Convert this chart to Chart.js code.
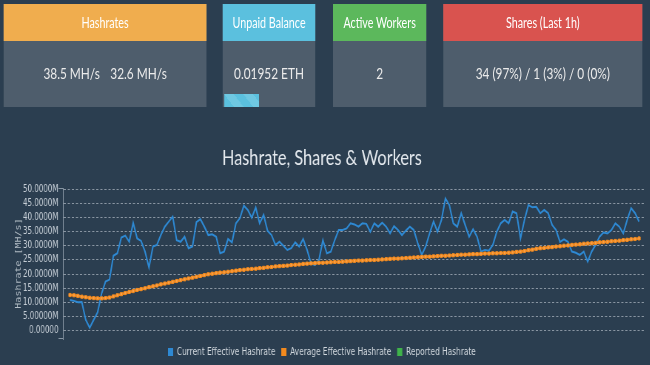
<!DOCTYPE html>
<html>
<head>
<meta charset="utf-8">
<script src="https://cdn.jsdelivr.net/npm/chart.js@4.4.1/dist/chart.umd.min.js"></script>
<style>
  html, body { margin: 0; padding: 0; width: 650px; height: 365px; overflow: hidden; background: #2b3e50; }
  /* the reference screenshot is squeezed horizontally, so lay out wide and scale down */
  #page { position: absolute; left: 0; top: 0; width: 878px; height: 365px; transform: scaleX(0.74); transform-origin: 0 0; font-family: Lato, sans-serif; }
  .card { position: absolute; top: 4px; height: 103px; background: #4e5d6c; }
  .card .head { height: 37px; line-height: 37px; text-align: center; color: #fff; font-size: 14.5px; }
  .card .val { height: 66px; line-height: 64px; text-align: center; color: #ebebeb; font-size: 16px; }
  .warning { background: #f0ad4e; }
  .info { background: #5bc0de; }
  .success { background: #5cb85c; }
  .danger { background: #d9534f; }
  .bar { position: absolute; left: 2px; bottom: 0; width: 47px; height: 13px; background-color: #5bc0de;
    background-image: linear-gradient(45deg, rgba(255,255,255,.12) 25%, transparent 25%, transparent 50%, rgba(255,255,255,.12) 50%, rgba(255,255,255,.12) 75%, transparent 75%, transparent);
    background-size: 26px 26px; }
  #wrap { position: absolute; left: 0; top: 118px; width: 878px; height: 249px; }
</style>
</head>
<body>
<div id="page">
  <div class="card" style="left:5px;width:274px">
    <div class="head warning">Hashrates</div>
    <div class="val"><span style="margin-right:14px">38.5 MH/s</span><span>32.6 MH/s</span></div>
  </div>
  <div class="card" style="left:301px;width:125px">
    <div class="head info">Unpaid Balance</div>
    <div class="val">0.01952 ETH</div>
    <div class="bar"></div>
  </div>
  <div class="card" style="left:450px;width:126px">
    <div class="head success">Active Workers</div>
    <div class="val">2</div>
  </div>
  <div class="card" style="left:599px;width:269px">
    <div class="head danger">Shares (Last 1h)</div>
    <div class="val">34 (97%) / 1 (3%) / 0 (0%)</div>
  </div>
  <div id="wrap"><canvas id="hashChart" width="878" height="249"></canvas></div>
</div>
<script>
// MH/s, one value per sample
const currentHashrate = [
  10.7, 10.4, 9.9, 10.0, 3.6, 0.8, 3.6, 6.3, 13.0, 17.3, 18.0, 26.5, 27.4, 33.0, 33.7, 31.5, 38.3, 32.7, 31.8, 28.0,
  22.3, 29.8, 30.4, 33.9, 36.9, 38.7, 40.5, 32.1, 31.5, 33.3, 29.2, 29.8, 38.5, 39.6, 36.9, 33.9, 34.2,
  33.3, 27.4, 28.0, 32.5, 31.3, 38.1, 39.9, 44.4, 42.9, 40.1, 43.7, 38.1, 41.1, 35.4, 33.9, 30.4, 31.5, 30.1, 28.6,
  29.2, 31.3, 29.8, 32.5, 28.6, 23.8, 23.2, 25.0, 32.1, 27.4, 28.0, 32.1, 35.7, 35.7, 36.3, 38.1, 37.7, 36.9,
  38.1, 37.9, 35.1, 38.1, 36.9, 38.3, 36.9, 34.5, 37.1, 35.7, 33.9, 35.5, 36.9, 35.7, 31.0, 26.8, 29.8, 34.5, 38.7, 35.1, 39.3,
  47.0, 44.6, 38.1, 36.9, 41.7, 37.5, 33.3, 36.0, 33.3, 28.0, 28.6, 28.3, 30.4, 35.1, 38.1, 39.3, 38.1, 42.3, 41.7, 32.7,
  39.3, 44.6, 43.8, 44.0, 41.7, 42.9, 41.7, 37.5, 35.7, 31.5, 32.4, 31.5, 28.0, 27.6, 26.8, 28.0, 24.4, 28.0, 30.4, 33.3,
  34.8, 34.5, 35.7, 38.1, 36.9, 34.5, 39.3, 43.5, 41.7, 38.7
];
const averageHashrate = [
  12.5, 12.4, 12.2, 11.9, 11.7, 11.5, 11.4, 11.3, 11.3, 11.4,
  11.6, 12.0, 12.4, 12.8, 13.2, 13.6, 13.9, 14.3, 14.6, 14.9,
  15.3, 15.6, 15.9, 16.3, 16.6, 16.9, 17.2, 17.5, 17.8, 18.1,
  18.4, 18.7, 19.0, 19.3, 19.6, 19.9, 20.1, 20.3, 20.5, 20.6,
  20.8, 21.0, 21.2, 21.4, 21.5, 21.7, 21.8, 21.9, 22.1, 22.2,
  22.4, 22.5, 22.7, 22.8, 22.9, 23.0, 23.2, 23.3, 23.4, 23.6,
  23.7, 23.8, 23.9, 24.0, 24.0, 24.1, 24.2, 24.3, 24.3, 24.4,
  24.5, 24.6, 24.7, 24.8, 24.8, 24.9, 25.0, 25.0, 25.1, 25.2,
  25.3, 25.4, 25.5, 25.5, 25.6, 25.7, 25.8, 25.9, 26.0, 26.1,
  26.2, 26.2, 26.3, 26.4, 26.5, 26.5, 26.6, 26.7, 26.8, 26.9,
  26.9, 27.0, 27.1, 27.1, 27.2, 27.3, 27.3, 27.4, 27.4, 27.5,
  27.5, 27.6, 27.7, 27.9, 28.0, 28.2, 28.5, 28.7, 29.0, 29.2,
  29.3, 29.5, 29.6, 29.8, 29.9, 30.1, 30.2, 30.4, 30.5, 30.6,
  30.8, 30.9, 31.0, 31.1, 31.3, 31.4, 31.5, 31.7, 31.8, 31.9,
  32.1, 32.2, 32.4, 32.5, 32.7
];
const reportedHashrate = [];

const seriesNames = ['Current Effective Hashrate', 'Average Effective Hashrate', 'Reported Hashrate'];
const yTickValues = [0, 5, 10, 15, 20, 25, 30, 35, 40, 45, 50];
const yTickLabels = ['0.00000', '5.00000M', '10.0000M', '15.0000M', '20.0000M', '25.0000M',
  '30.0000M', '35.0000M', '40.0000M', '45.0000M', '50.0000M'];

const toPoints = arr => arr.map((v, i) => ({ x: i, y: v }));

// little end marks on the y axis line
const axisEnds = {
  id: 'axisEnds',
  afterDraw(chart) {
    const { ctx, chartArea } = chart;
    ctx.save();
    ctx.strokeStyle = '#8896a3';
    ctx.lineWidth = 1;
    ctx.beginPath();
    ctx.moveTo(chartArea.left - 6, chartArea.top + 0.5);
    ctx.lineTo(chartArea.left, chartArea.top + 0.5);
    ctx.moveTo(chartArea.left - 6, chartArea.bottom - 0.5);
    ctx.lineTo(chartArea.left, chartArea.bottom - 0.5);
    ctx.stroke();
    ctx.restore();
  }
};

new Chart(document.getElementById('hashChart'), {
  type: 'line',
  data: {
    datasets: [{
      label: seriesNames[0],
      data: toPoints(currentHashrate),
      borderColor: '#2e89d3',
      backgroundColor: '#2e89d3',
      borderWidth: 2,
      pointRadius: 0,
      order: 1
    }, {
      label: seriesNames[1],
      data: toPoints(averageHashrate),
      borderColor: '#f28a1e',
      backgroundColor: '#f28a1e',
      borderWidth: 2.6,
      pointStyle: 'rect',
      pointRadius: 2.2,
      pointBackgroundColor: '#f6a04c',
      pointBorderColor: '#f28a1e',
      pointBorderWidth: 1,
      order: 0
    }, {
      label: seriesNames[2],
      data: toPoints(reportedHashrate),
      borderColor: '#3fb34a',
      backgroundColor: '#3fb34a',
      pointRadius: 0,
      order: 2
    }]
  },
  options: {
    responsive: false,
    animation: false,
    layout: { padding: { left: 0, right: 8, top: 0, bottom: 0 } },
    plugins: {
      title: {
        display: true,
        text: 'Hashrate, Shares & Workers',
        color: '#e4e9ee',
        font: { family: 'Lato', size: 22, weight: 'normal' },
        padding: { top: 26.8, bottom: 16.8 }
      },
      legend: {
        position: 'bottom',
        labels: {
          color: '#d0d7dd',
          font: { family: 'DejaVu Sans', size: 10 },
          boxWidth: 7,
          boxHeight: 8,
          padding: 8,
          sort: (a, b) => a.datasetIndex - b.datasetIndex,
          generateLabels: chart => Chart.defaults.plugins.legend.labels.generateLabels(chart)
            .map(it => Object.assign(it, { fillStyle: it.strokeStyle, lineWidth: 0 }))
        }
      },
      tooltip: { enabled: false }
    },
    scales: {
      x: { type: 'linear', display: false, min: -1.78, max: 145.2 },
      y: {
        min: -3.21,
        max: 50.71,
        afterFit: scale => { scale.width = 85; },
        afterBuildTicks: scale => { scale.ticks = yTickValues.map(v => ({ value: v })); },
        ticks: {
          color: '#c6ced6',
          font: { family: 'DejaVu Sans', size: 9.6 },
          padding: 6,
          callback: v => yTickLabels[yTickValues.indexOf(v)]
        },
        grid: { color: 'rgba(200,208,216,0.6)', drawTicks: false },
        border: { display: true, color: '#8896a3', dash: [3, 2.5] },
        title: {
          display: true,
          text: 'Hashrate [MH/s]',
          color: '#b3bdc6',
          font: { family: 'DejaVu Sans Mono', size: 10 },
          padding: { top: 19, bottom: 0 }
        }
      }
    }
  },
  plugins: [axisEnds]
});
</script>
</body>
</html>
